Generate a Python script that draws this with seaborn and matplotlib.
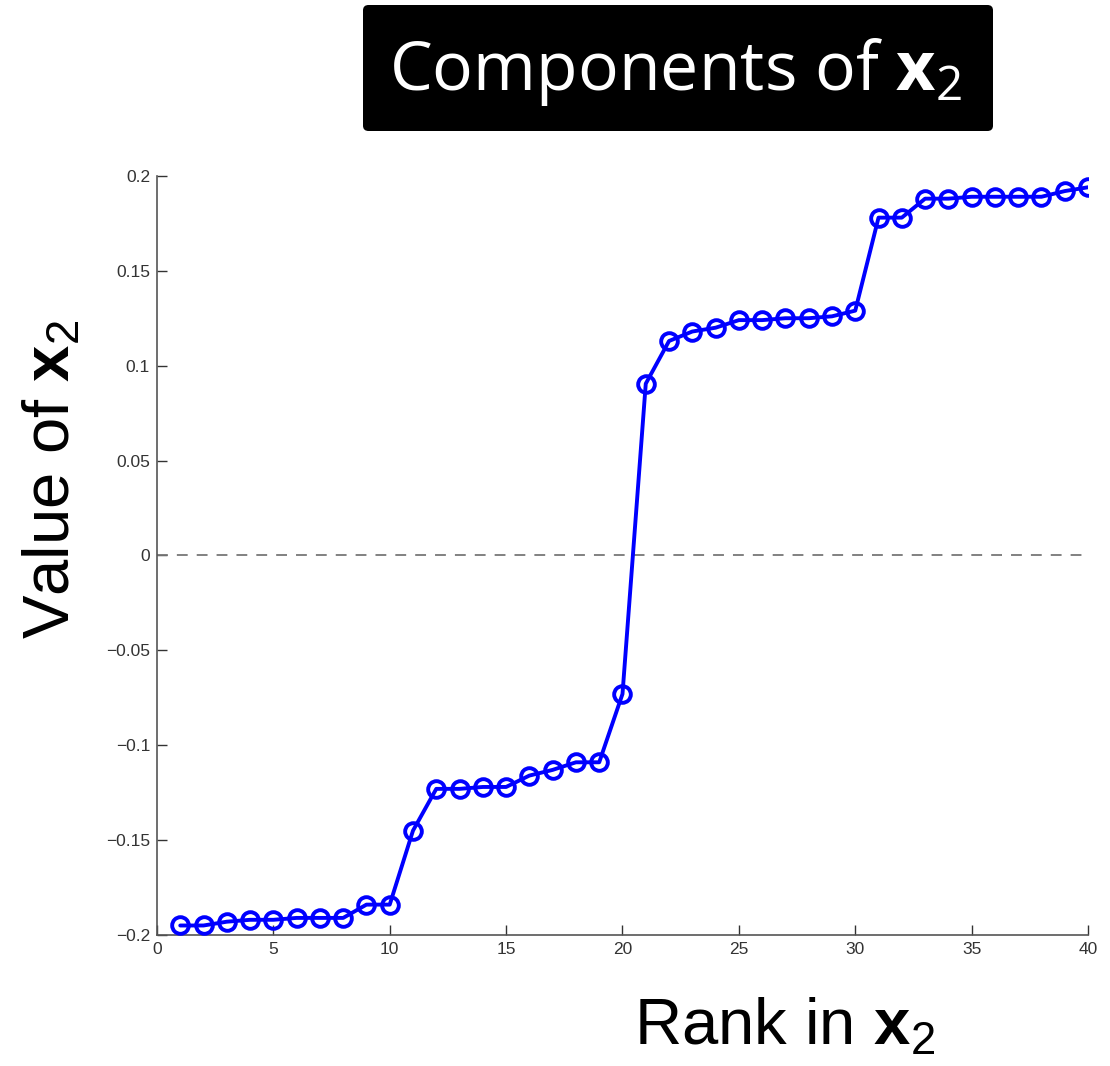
import matplotlib
matplotlib.use("Agg")
import matplotlib.pyplot as plt
import seaborn as sns
import pandas as pd
from matplotlib.patches import FancyBboxPatch

rank = list(range(1, 41))
values = [-0.195, -0.195, -0.193, -0.192, -0.192, -0.191, -0.191, -0.191, -0.184, -0.184,
          -0.145, -0.123, -0.123, -0.122, -0.122, -0.116, -0.113, -0.109, -0.109, -0.073,
          0.0905, 0.113, 0.118, 0.120, 0.124, 0.124, 0.125, 0.125, 0.126, 0.129,
          0.178, 0.178, 0.188, 0.188, 0.189, 0.189, 0.189, 0.189, 0.192, 0.194]
xticks = [0, 5, 10, 15, 20, 25, 30, 35, 40]
yticks = [-0.2, -0.15, -0.1, -0.05, 0, 0.05, 0.1, 0.15, 0.2]
ytick_labels = ["\u22120.2", "\u22120.15", "\u22120.1", "\u22120.05", "0", "0.05", "0.1", "0.15", "0.2"]

sns.set_style("ticks")
plt.rcParams['font.family'] = ['Liberation Sans', 'DejaVu Sans']
plt.rcParams['mathtext.fontset'] = 'custom'
plt.rcParams['mathtext.rm'] = 'Liberation Sans'
plt.rcParams['mathtext.bf'] = 'Liberation Sans:bold'
plt.rcParams['mathtext.it'] = 'Liberation Sans:italic'
plt.rcParams['mathtext.sf'] = 'Open Sans:bold'

fig = plt.figure(figsize=(11.10, 10.66), dpi=100)
ax = fig.add_axes([0.1414, 0.1229, 0.8388, 0.7121])

df = pd.DataFrame({"rank": rank, "value": values})
ax.axhline(0, color="#777777", lw=1.3, ls=(0, (6, 5)), zorder=1)
sns.lineplot(data=df, x="rank", y="value", ax=ax, color="#0000ff", lw=2.8,
             marker="o", markersize=12, markerfacecolor="none",
             markeredgecolor="#0000ff", markeredgewidth=2.8, zorder=3)

ax.set_xlim(0, 40)
ax.set_ylim(-0.2, 0.2)
ax.set_xticks(xticks)
ax.set_xticklabels([str(t) for t in xticks])
ax.set_yticks(yticks)
ax.set_yticklabels(ytick_labels)
ax.tick_params(direction="in", length=7, width=1, colors="#333333", labelsize=12.5, pad=5)
for s in ["top", "right"]:
    ax.spines[s].set_visible(False)
for s in ["left", "bottom"]:
    ax.spines[s].set_color("#555555")
    ax.spines[s].set_linewidth(1.2)
ax.set_xlabel("")
ax.set_ylabel("")

fig.text(0.047, 0.55, r"Value of $\mathbf{x}_2$", rotation=90, fontsize=47,
         ha="center", va="center", color="black")
fig.text(0.707, 0.036, r"Rank in $\mathbf{x}_2$", fontsize=47,
         ha="center", va="center", color="black")

box = FancyBboxPatch((363 / 1110, 1 - 131 / 1066), (993 - 363) / 1110, (131 - 5) / 1066,
                     boxstyle="round,pad=0,rounding_size=0.005", transform=fig.transFigure,
                     facecolor="black", edgecolor="none")
fig.patches.append(box)
fig.text((390 + 962) / 2 / 1110, 1 - 72 / 1066, r"Components of $\mathsf{x}_\mathregular{2}$",
         fontsize=49, color="white", ha="center", va="center",
         family=["Open Sans", "DejaVu Sans"])

fig.savefig("out.png", dpi=100)
